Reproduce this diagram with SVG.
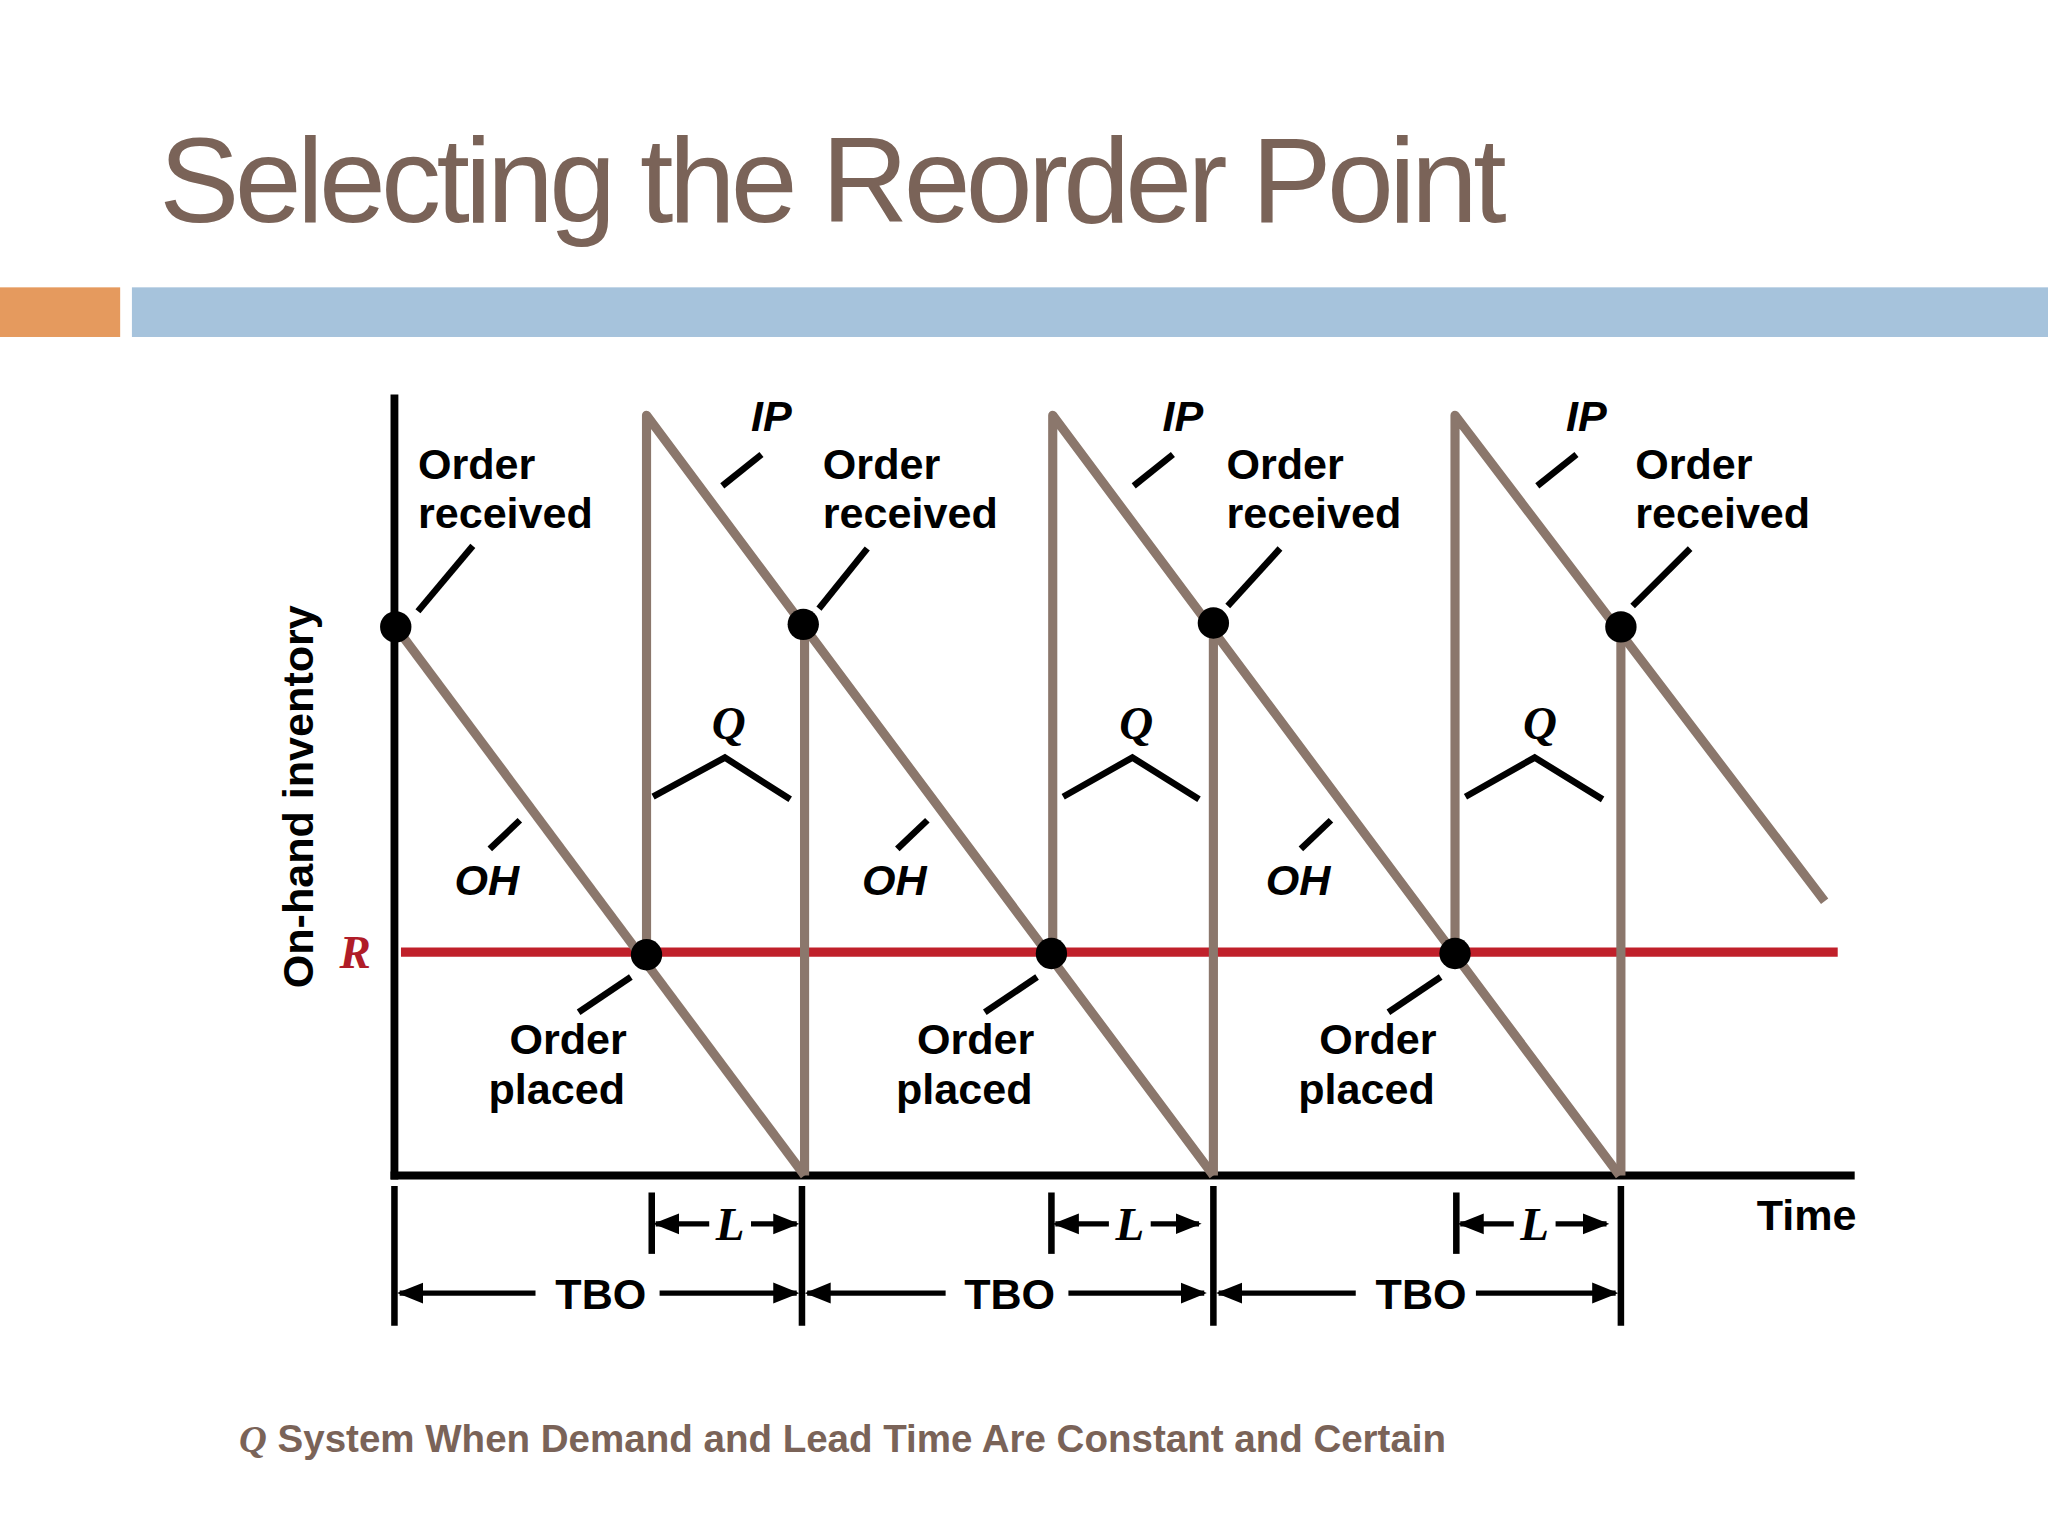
<svg xmlns="http://www.w3.org/2000/svg" width="2048" height="1536" viewBox="0 0 2048 1536">
<defs>
<marker id="ah" viewBox="0 0 10 10" refX="9" refY="5" markerWidth="5" markerHeight="5" orient="auto-start-reverse"><path d="M0,1 L10,5 L0,9 z" fill="#000"/></marker>
<style>
.b{stroke:#8b776c;stroke-width:7;fill:none;stroke-linejoin:round}
.k{stroke:#000;stroke-width:5;fill:none}
.t{font-family:"Liberation Sans",Arial,sans-serif;font-weight:bold;font-size:33px;fill:#000}
.i{font-style:italic}
.s{font-family:"Liberation Serif",serif;font-style:italic;font-weight:bold;font-size:36px}
.a{stroke:#000;stroke-width:4;marker-end:url(#ah)}
</style>
</defs>
<rect width="2048" height="1536" fill="#fff"/>
<g transform="scale(1.30612)">
<text x="122" y="170" font-family="Liberation Sans,Arial,sans-serif" font-size="92" fill="#7a6358" letter-spacing="-3.6">Selecting the Reorder Point</text>
<rect x="0" y="220" width="92" height="38" fill="#e59a5e"/>
<rect x="101" y="220" width="1467" height="38" fill="#a6c3dc"/>
<g id="axes">
<line x1="302" y1="302" x2="302" y2="903" stroke="#000" stroke-width="6"/>
<line x1="299" y1="900" x2="1420" y2="900" stroke="#000" stroke-width="6"/>
<line x1="307" y1="729" x2="1407" y2="729" stroke="#c0202a" stroke-width="7"/>
</g>
<g id="connectors">
<polyline class="b" points="303,480 616,900"/>
<polyline class="b" points="495,731 495,318 929,900"/>
<polyline class="b" points="616,480 616,900"/>
<polyline class="b" points="806,731 806,318 1240,900"/>
<polyline class="b" points="929,477 929,900"/>
<polyline class="b" points="1114,731 1114,318 1397,690"/>
<polyline class="b" points="1241,480 1241,900"/>
<g class="k">
<line x1="362" y1="418" x2="320" y2="468"/><line x1="664" y1="420" x2="627" y2="466"/><line x1="980" y1="420" x2="940" y2="464"/><line x1="1294" y1="420" x2="1250" y2="464"/>
<line x1="583" y1="348" x2="553" y2="372"/><line x1="898" y1="348" x2="868" y2="372"/><line x1="1207" y1="348" x2="1177" y2="372"/>
<polyline points="500,610 555,580 605,612"/><polyline points="814,610 867,580 918,612"/><polyline points="1122,610 1175,580 1227,612"/>
<line x1="398" y1="628" x2="375" y2="650"/><line x1="710" y1="628" x2="687" y2="650"/><line x1="1019" y1="628" x2="996" y2="650"/>
<line x1="483" y1="748" x2="443" y2="775"/><line x1="794" y1="748" x2="754" y2="775"/><line x1="1103" y1="748" x2="1063" y2="775"/>
<line x1="302" y1="908" x2="302" y2="1015"/><line x1="614" y1="908" x2="614" y2="1015"/><line x1="929" y1="908" x2="929" y2="1015"/><line x1="1241" y1="908" x2="1241" y2="1015"/>
<line x1="499" y1="913" x2="499" y2="960"/><line x1="805" y1="913" x2="805" y2="960"/><line x1="1115" y1="913" x2="1115" y2="960"/>
</g>
<line class="a" x1="543" y1="937" x2="502" y2="937"/><line class="a" x1="575" y1="937" x2="610" y2="937"/>
<line class="a" x1="849" y1="937" x2="808" y2="937"/><line class="a" x1="881" y1="937" x2="918" y2="937"/>
<line class="a" x1="1159" y1="937" x2="1118" y2="937"/><line class="a" x1="1191" y1="937" x2="1230" y2="937"/>
<line class="a" x1="410" y1="990" x2="306" y2="990"/><line class="a" x1="505" y1="990" x2="610" y2="990"/>
<line class="a" x1="724" y1="990" x2="618" y2="990"/><line class="a" x1="818" y1="990" x2="922" y2="990"/>
<line class="a" x1="1038" y1="990" x2="933" y2="990"/><line class="a" x1="1130" y1="990" x2="1237" y2="990"/>
</g>
<g id="dots" fill="#000">
<circle cx="303" cy="480" r="12"/><circle cx="615" cy="478" r="12"/><circle cx="929" cy="477" r="12"/><circle cx="1241" cy="480" r="12"/>
<circle cx="495" cy="731" r="12"/><circle cx="805" cy="730" r="12"/><circle cx="1114" cy="730" r="12"/>
</g>
<g id="labels" class="t">
<text x="320" y="367">Order</text><text x="320" y="404">received</text>
<text x="630" y="367">Order</text><text x="630" y="404">received</text>
<text x="939" y="367">Order</text><text x="939" y="404">received</text>
<text x="1252" y="367">Order</text><text x="1252" y="404">received</text>
<text x="575" y="330" class="i">IP</text><text x="890" y="330" class="i">IP</text><text x="1199" y="330" class="i">IP</text>
<text x="348" y="685" class="i">OH</text><text x="660" y="685" class="i">OH</text><text x="969" y="685" class="i">OH</text>
<text x="390" y="807">Order</text><text x="374" y="845">placed</text>
<text x="702" y="807">Order</text><text x="686" y="845">placed</text>
<text x="1010" y="807">Order</text><text x="994" y="845">placed</text>
<text x="1345" y="942">Time</text>
<text x="460" y="1002" text-anchor="middle">TBO</text><text x="773" y="1002" text-anchor="middle">TBO</text><text x="1088" y="1002" text-anchor="middle">TBO</text>
<text x="240" y="610" text-anchor="middle" transform="rotate(-90 240 610)">On-hand inventory</text>
<text x="545" y="566" class="s">Q</text><text x="857" y="566" class="s">Q</text><text x="1166" y="566" class="s">Q</text>
<text x="559" y="949" class="s" text-anchor="middle">L</text><text x="865" y="949" class="s" text-anchor="middle">L</text><text x="1175" y="949" class="s" text-anchor="middle">L</text>
<text x="260" y="741" class="s" style="fill:#b01c28">R</text>
</g>
<text x="183" y="1112" font-family="Liberation Sans,Arial,sans-serif" font-weight="bold" font-size="29.5" fill="#7a6358"><tspan font-family="Liberation Serif,serif" font-style="italic">Q</tspan> System When Demand and Lead Time Are Constant and Certain</text>
</g>
</svg>
